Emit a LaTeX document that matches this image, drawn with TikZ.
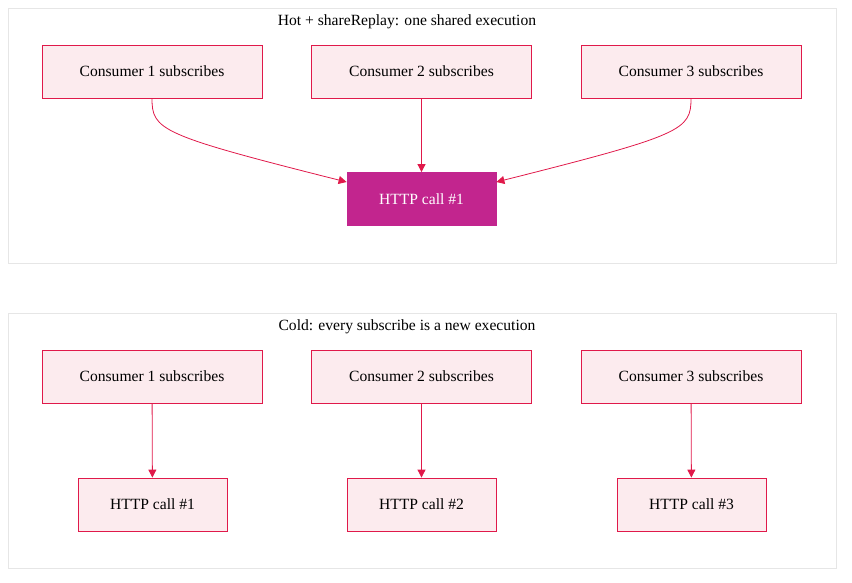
\documentclass[tikz,border=0pt]{standalone}
\usepackage{fontspec}
\setmainfont{Liberation Serif}
\usetikzlibrary{arrows.meta}
\definecolor{boxfill}{HTML}{FCEBEE}
\definecolor{boxline}{HTML}{E0194A}
\definecolor{hotfill}{HTML}{C2258E}
\definecolor{clusterline}{HTML}{E6E6E6}
\begin{document}
\begin{tikzpicture}[x=1pt,y=-1pt,
    consumer/.style={draw=boxline,fill=boxfill,line width=0.8pt,minimum width=220pt,minimum height=53pt,font=\fontsize{15.6}{18}\selectfont},
    call/.style={draw=boxline,fill=boxfill,line width=0.8pt,minimum width=149pt,minimum height=53pt,font=\fontsize{15.6}{18}\selectfont},
    hotcall/.style={call,draw=hotfill,fill=hotfill,text=white},
    flow/.style={draw=boxline,line width=0.8pt,-{Triangle[length=8pt,width=8pt]}},
    title/.style={font=\fontsize{15.6}{18}\selectfont}]
        \useasboundingbox (0,0) rectangle (852,582);
        \draw[clusterline,line width=0.8pt] (8,8) rectangle (836,263);
        \draw[clusterline,line width=0.8pt] (8,313) rectangle (836,568);
        \node[title] (hottitle) at (407,22) {Hot + shareReplay: one shared execution};
        \node[title] (coldtitle) at (407,327) {Cold: every subscribe is a new execution};

        % hot
        \node[consumer] (h1) at (152,71.5) {Consumer 1 subscribes};
        \node[consumer] (h2) at (421.5,71.5) {Consumer 2 subscribes};
        \node[consumer] (h3) at (691,71.5) {Consumer 3 subscribes};
        \node[hotcall] (hcall) at (421.5,199) {HTTP call \#1};

          \draw[flow] (h1.south) .. controls (152,130) and (160,135) .. (hcall.west |- 0,182);
          \draw[flow] (h2) -- (hcall);
          \draw[flow] (h3.south) .. controls (691,130) and (683,135) .. (hcall.east |- 0,182);

        % cold
        \node[consumer] (c1) at (152,376.5) {Consumer 1 subscribes};
        \node[consumer] (c2) at (421.5,376.5) {Consumer 2 subscribes};
        \node[consumer] (c3) at (691,376.5) {Consumer 3 subscribes};
        \node[call] (call1) at (152.5,504.5) {HTTP call \#1};
        \node[call] (call2) at (421.5,504.5) {HTTP call \#2};
        \node[call] (call3) at (691.5,504.5) {HTTP call \#3};

          \draw[flow] (c1) -- (call1);
          \draw[flow] (c2) -- (call2);
          \draw[flow] (c3) -- (call3);
    \end{tikzpicture}
\end{document}
